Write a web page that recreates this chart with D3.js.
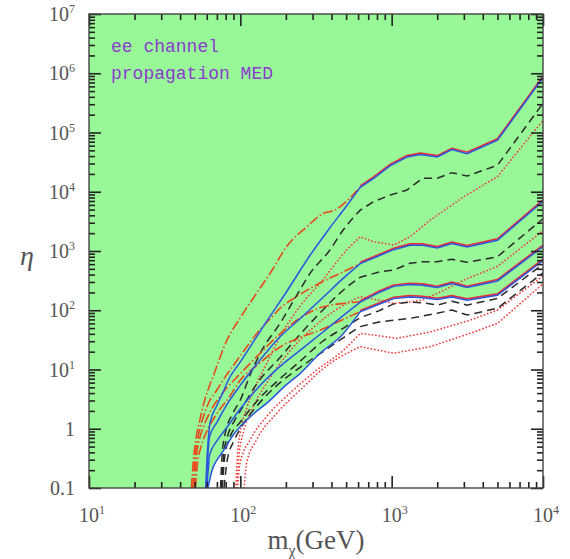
<!DOCTYPE html>
<html>
<head>
<meta charset="utf-8">
<script src="https://cdn.jsdelivr.net/npm/d3@7"></script>
<style>
  body { margin: 0; background: #fff; }
</style>
</head>
<body>
<div id="container"></div>
<script>
// tick values and labels
const xMajor = [10, 100, 1000, 10000]
const xLabels = ['10^1', '10^2', '10^3', '10^4']
const yMajor = [0.1, 1, 10, 100, 1e3, 1e4, 1e5, 1e6, 1e7]
const yLabels = ['0.1', '1', '10^1', '10^2', '10^3', '10^4', '10^5', '10^6', '10^7']

// [m (GeV), eta] -- common high mass part of each group (solid red + blue)
const highA = [[620, 12000], [760, 17000], [980, 28000], [1260, 39000], [1550, 43000], [2000, 39000], [2500, 52000], [3150, 44500], [5000, 75000], [10000, 850000]]
const highB = [[620, 620], [840, 856], [1030, 1066], [1320, 1262], [1600, 1262], [2000, 1137], [2500, 1350], [3150, 1183], [5000, 1535], [10000, 7000]]
const highC = [[620, 139], [840, 206], [1030, 256], [1320, 274], [1600, 267], [2000, 244], [2500, 285], [3150, 244], [5000, 316], [10000, 1200]]
const highD = [[620, 95], [840, 130], [1030, 159], [1320, 169], [1600, 165], [2000, 153], [2500, 169], [3150, 149], [5000, 181], [10000, 700]]

// blue solid, low mass part
const blueA = [[59, 0.1], [60.5, 0.4], [62, 0.9], [63, 1.25], [70, 2.5], [77, 4.2], [83, 6.6], [100, 13.6], [150, 67], [200, 200], [286, 824], [391, 2500], [500, 5700]]
const blueB = [[59.5, 0.1], [61, 0.35], [62.5, 0.73], [70, 1.3], [80, 2.4], [100, 5.5], [130, 13], [183, 36], [250, 74], [350, 164], [480, 352]]
const blueC = [[60, 0.1], [61.5, 0.22], [62.5, 0.36], [70, 0.63], [80, 1.0], [100, 2.2], [130, 4.9], [183, 11.4], [248, 21.3], [350, 43], [480, 83]]
const blueD = [[61, 0.1], [65, 0.2], [70, 0.3], [75.3, 0.39], [90, 0.8], [116, 1.6], [157, 3.05], [200, 5.5], [248, 8.6], [336, 19], [467, 38]]

// dash-dot (orange red)
const ddA = [[47.5, 0.1], [49, 0.3], [51, 0.7], [54, 1.4], [58, 3], [62, 5], [66, 7.5], [72, 14], [80, 28], [100, 75], [128, 193], [160, 450], [202, 1180], [275, 2570], [353, 4300], [422, 4900], [520, 7500], [620, 12000]]
const ddB = [[48.5, 0.1], [50, 0.3], [53, 0.8], [57, 1.6], [62, 2.8], [70, 4.5], [77, 6.65], [100, 17], [130, 42], [160, 75], [183, 108], [240, 175], [303, 250], [400, 360], [500, 470], [620, 620]]
const ddC = [[49.5, 0.1], [51, 0.3], [54, 0.7], [58, 1.2], [65, 2.2], [75, 3.8], [100, 8.5], [130, 17], [183, 40], [250, 75], [336, 110], [450, 128], [620, 139]]
const ddD = [[50.5, 0.1], [52, 0.25], [55, 0.5], [60, 0.9], [70, 1.8], [85, 3.5], [100, 6.65], [130, 12], [183, 24], [250, 35], [336, 46], [450, 65], [620, 95]]

// black dashed
const dashA = [[74, 0.1], [76, 0.4], [80, 0.9], [88, 1.7], [100, 3.05], [116, 8.1], [140, 22], [183, 60], [230, 160], [289, 420], [391, 1040], [478, 2260], [620, 4900], [760, 6800], [980, 8800], [1260, 10700], [1600, 16900], [2000, 16900], [2500, 21000], [3150, 18400], [5000, 28000], [10000, 310000]]
const dashB = [[75, 0.1], [78, 0.4], [83, 0.8], [92, 1.4], [100, 2], [130, 6], [183, 16], [250, 40], [350, 100], [480, 220], [620, 360], [840, 448], [1030, 477], [1320, 620], [1600, 660], [2000, 660], [2500, 723], [3150, 644], [5000, 800], [10000, 3500]]
const dashC = [[76, 0.1], [79, 0.35], [85, 0.7], [100, 1.3], [130, 3], [183, 7], [250, 14], [350, 30], [480, 50], [620, 75], [840, 100], [1030, 128], [1320, 137], [1600, 134], [2000, 122], [2500, 142], [3150, 122], [5000, 158], [10000, 600]]
const dashD = [[78, 0.1], [82, 0.3], [90, 0.6], [100, 1.0], [130, 2.5], [183, 6], [250, 11], [391, 24], [530, 41], [620, 53], [840, 64], [1030, 68], [1320, 73], [2000, 89], [2500, 101], [3150, 83], [5000, 108], [10000, 430]]

// red dotted
const dotA = [[93, 0.1], [96, 0.4], [100, 0.9], [110, 2.2], [125, 5], [150, 13], [183, 36], [250, 120], [336, 285], [505, 1040], [620, 1740], [760, 1435], [1030, 1262], [1320, 1740], [1800, 3330], [3000, 8260], [5000, 18000], [10000, 160000]]
const dotB = [[95, 0.1], [98, 0.35], [105, 0.9], [120, 2.2], [150, 6], [200, 17], [300, 50], [450, 110], [620, 170], [800, 150], [1030, 130], [1320, 138], [1600, 149], [2200, 215], [3000, 324], [5000, 550], [10000, 2200]]
const dotC = [[96, 0.1], [99.5, 0.26], [116, 0.65], [149, 1.6], [213, 4.0], [320, 9.8], [479, 21], [620, 40.8], [1080, 33.6], [1800, 43], [3300, 68], [5000, 101], [10000, 380]]
const dotD = [[106, 0.1], [110, 0.26], [128, 0.65], [174, 1.82], [248, 4.5], [392, 12.7], [530, 20], [620, 24.3], [1030, 18.8], [1800, 24.3], [3300, 40.8], [5000, 60], [10000, 280]]

const w = 570
const h = 559
const margin = { left: 89, right: 27, top: 14, bottom: 71 }

const x = d3.scaleLog().domain([10, 1e4]).range([margin.left, w - margin.right])
const y = d3.scaleLog().domain([0.1, 1e7]).range([h - margin.bottom, margin.top])

const svg = d3.select('#container')
  .append('svg')
  .attr('width', w)
  .attr('height', h)

svg.append('clipPath')
  .attr('id', 'plot')
  .append('rect')
  .attr('x', x(10))
  .attr('y', y(1e7))
  .attr('width', x(1e4) - x(10))
  .attr('height', y(0.1) - y(1e7))

// smooth below the merge mass, straight segments above it
const kink = 620
const smooth = d3.line()
  .x(d => x(d[0]))
  .y(d => y(d[1]))
  .curve(d3.curveMonotoneX)
const straight = d3.line()
  .x(d => x(d[0]))
  .y(d => y(d[1]))
const line = data => {
  const lo = data.filter(d => d[0] <= kink)
  const hi = data.filter(d => d[0] >= kink)
  let p = smooth(lo)
  if (hi.length > 1) p += 'L' + straight(hi).slice(1)
  return p
}

const g = svg.append('g').attr('clip-path', 'url(#plot)')

// green region above the lowest solid curve
const edge = line(blueD.concat(highD))
g.append('path')
  .attr('d', `M${x(10)},${y(1e7)}L${x(10)},${y(0.1)}L` + edge.slice(1) + `L${x(1e4)},${y(1e7)}Z`)
  .style('fill', '#98f898')

const draw = (data, stroke, dash, width, dy, cap) => {
  g.append('path')
    .attr('d', line(data))
    .attr('transform', `translate(0,${dy || 0})`)
    .style('fill', 'none')
    .style('stroke', stroke)
    .style('stroke-width', width)
    .style('stroke-dasharray', dash)
    .style('stroke-linecap', cap || 'butt')
}

// dotted
;[dotA, dotB, dotC, dotD].forEach(d => draw(d, '#f03a3a', '0.1,3.4', 1.7, 0, 'round'))
// dashed
;[dashA, dashB, dashC, dashD].forEach(d => draw(d, '#2a2a2a', '8,5', 1.5))
// dash-dot
;[ddA, ddB, ddC, ddD].forEach(d => draw(d, '#e8481c', '10,2.5,1.5,2.5', 1.6))
// red solid
;[highA, highB, highC, highD].forEach(d => draw(d, '#e82a3a', null, 1.6, -1.1))
// blue solid
;[[blueA, highA], [blueB, highB], [blueC, highC], [blueD, highD]].forEach(d => draw(d[0].concat(d[1]), '#2a55e0', null, 1.5, 0.3))

// minor tick values
const minor = (lo, hi) => {
  const v = []
  for (let p = lo; p < hi; p++) {
    for (let k = 2; k <= 9; k++) v.push(k * Math.pow(10, p))
  }
  return v
}
const xMinor = minor(1, 4)
const yMinor = minor(-1, 7)

const x0 = x(10)
const x1 = x(1e4)
const y0 = y(0.1)
const y1 = y(1e7)

// inward ticks on all four sides, drawn with d3 axes
const sides = [
  [d3.axisBottom, `translate(0,${y0})`, x, xMajor, xMinor],
  [d3.axisTop, `translate(0,${y1})`, x, xMajor, xMinor],
  [d3.axisLeft, `translate(${x0},0)`, y, yMajor, yMinor],
  [d3.axisRight, `translate(${x1},0)`, y, yMajor, yMinor]
]
sides.forEach(s => {
  ;[[s[4], 6], [s[3], 12]].forEach(t => {
    const ax = svg.append('g')
      .attr('transform', s[1])
      .call(s[0](s[2]).tickValues(t[0]).tickSize(-t[1]).tickSizeOuter(0).tickFormat(() => ''))
    ax.select('.domain').remove()
    ax.selectAll('.tick line')
      .attr('stroke', '#222')
      .attr('stroke-width', 1.6)
  })
})

// frame
svg.append('rect')
  .attr('x', x0)
  .attr('y', y1)
  .attr('width', x1 - x0)
  .attr('height', y0 - y1)
  .style('fill', 'none')
  .style('stroke', '#444')
  .style('stroke-width', 1.4)

const label = (sel, t) => {
  const parts = t.split('^')
  sel.append('tspan').text(parts[0])
  if (parts[1]) {
    sel.append('tspan')
      .text(parts[1])
      .attr('dy', -8)
      .style('font-size', '12px')
  }
}

xMajor.forEach((v, i) => {
  svg.append('text')
    .attr('x', x(v) + 3)
    .attr('y', y0 + 34)
    .attr('text-anchor', 'middle')
    .attr('class', 'tl')
    .call(label, xLabels[i])
})

yMajor.forEach((v, i) => {
  svg.append('text')
    .attr('x', x0 - 14)
    .attr('y', y(v) + 7)
    .attr('text-anchor', 'end')
    .attr('class', 'tl')
    .call(label, yLabels[i])
})

svg.selectAll('.tl')
  .style('font-family', '"Liberation Serif", serif')
  .style('font-size', '20px')
  .style('fill', '#555')

// axis titles
svg.append('text')
  .attr('x', 27)
  .attr('y', 265)
  .attr('text-anchor', 'middle')
  .style('font-family', '"Liberation Serif", serif')
  .style('font-style', 'italic')
  .style('font-size', '28px')
  .style('fill', '#555')
  .text('η')

const xt = svg.append('text')
  .attr('x', 316)
  .attr('y', 549)
  .attr('text-anchor', 'middle')
  .style('font-family', '"Liberation Serif", serif')
  .style('font-size', '27px')
  .style('fill', '#555')
xt.append('tspan').text('m')
xt.append('tspan').text('χ').attr('dy', 7).style('font-size', '16px')
xt.append('tspan').text('(GeV)').attr('dy', -7)

// legend text
const legend = ['ee channel', 'propagation MED']
legend.forEach((t, i) => {
  svg.append('text')
    .attr('x', 111)
    .attr('y', 52 + i * 27)
    .style('font-family', '"Liberation Mono", monospace')
    .style('font-size', '18px')
    .style('fill', '#8a3ccc')
    .text(t)
})
</script>
</body>
</html>
